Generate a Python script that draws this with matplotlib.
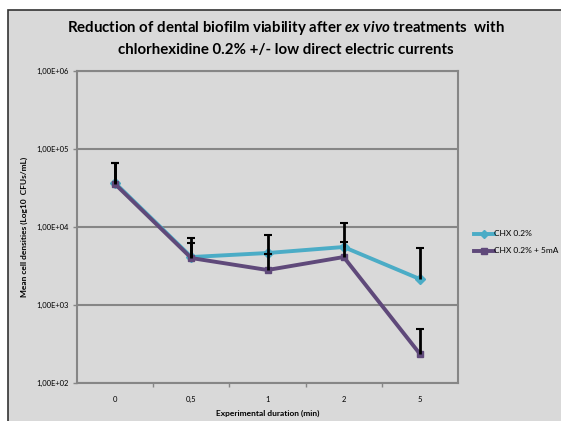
import matplotlib.pyplot as plt
from matplotlib.patches import Rectangle
from matplotlib.ticker import FixedLocator, NullFormatter

# Data
durations = ["0", "0,5", "1", "2", "5"]
chx = [36600, 4120, 4640, 5540, 2150]
chx_top = [66400, 7230, 7890, 11200, 5370]
chx_5ma = [35500, 4000, 2810, 4120, 236]
chx_5ma_top = [66000, 6240, 4500, 6400, 493]
ytick_vals = [1e2, 1e3, 1e4, 1e5, 1e6]
ytick_labels = ["1,00E+02", "1,00E+03", "1,00E+04", "1,00E+05", "1,00E+06"]

CYAN = "#4bacc6"
PURPLE = "#5f497a"
BG = "#d9d9d9"
GRID = "#868686"

plt.rcParams["font.family"] = ["Lato", "DejaVu Sans"]
plt.rcParams["mathtext.fontset"] = "custom"
plt.rcParams["mathtext.it"] = "Lato:italic:bold"
plt.rcParams["mathtext.rm"] = "Lato:bold"

fig = plt.figure(figsize=(5.61, 4.21), dpi=100, facecolor="white")

# Chart frame (Excel chart area)
fig.patches.append(Rectangle((8 / 561, -0.1), 1.2, 1.1 - 10 / 421,
                             transform=fig.transFigure, facecolor=BG,
                             edgecolor="#333333", linewidth=1.2, zorder=-5))

ax = fig.add_axes([77 / 561, 1 - 383 / 421, (458 - 77) / 561, (383 - 71) / 421])
ax.set_facecolor(BG)
x = list(range(len(durations)))

ax.plot(x, chx, color=CYAN, linewidth=2.8, marker="D", markersize=5,
        label="CHX 0.2%", zorder=3)
ax.plot(x, chx_5ma, color=PURPLE, linewidth=2.8, marker="s", markersize=5,
        label="CHX 0.2% + 5mA", zorder=3)

# Plus-only error bars (hide the lower caps)
err1 = [t - v for t, v in zip(chx_top, chx)]
err2 = [t - v for t, v in zip(chx_5ma_top, chx_5ma)]
for vals, err in [(chx, err1), (chx_5ma, err2)]:
    eb = ax.errorbar(x, vals, yerr=[[0] * 5, err], fmt="none", ecolor="black",
                     elinewidth=2, capsize=3, capthick=1.5, zorder=4)
    eb[1][0].set_visible(False)

# Customize
ax.set_yscale("log")
ax.set_ylim(1e2, 1e6)
ax.set_xlim(-0.5, 4.5)
ax.yaxis.set_major_locator(FixedLocator(ytick_vals))
ax.set_yticklabels(ytick_labels)
ax.yaxis.set_minor_locator(FixedLocator([]))
ax.yaxis.set_minor_formatter(NullFormatter())
ax.set_xticks(x)
ax.set_xticklabels(durations)
ax.set_xticks([0.5, 1.5, 2.5, 3.5], minor=True)
ax.tick_params(axis="x", which="major", length=0, labelsize=5.5, pad=9)
ax.tick_params(axis="x", which="minor", length=3, color=GRID, width=1)
ax.tick_params(axis="y", which="major", length=3, color=GRID, width=1,
               labelsize=5.5, pad=3)
ax.grid(which="major", axis="y", color=GRID, linewidth=1.5)
for side in ["left", "bottom", "right", "top"]:
    ax.spines[side].set_color(GRID)
    ax.spines[side].set_linewidth(1.5)

ax.set_xlabel("Experimental duration (min)", fontsize=6, fontweight="bold", labelpad=5)
ax.set_ylabel("Mean cell densities (Log10  CFUs/mL)", fontsize=6, fontweight="bold", labelpad=6)

fig.text(0.51, 1 - 28 / 421,
         "Reduction of dental biofilm viability after $\\mathit{ex\\ vivo}$ treatments  with",
         ha="center", va="center", fontsize=10.8, fontweight="bold")
fig.text(0.51, 1 - 50 / 421, "chlorhexidine 0.2% +/- low direct electric currents",
         ha="center", va="center", fontsize=10.8, fontweight="bold")

# Legend
fig.legend(loc="upper left", bbox_to_anchor=(466 / 561, 1 - 223 / 421),
           frameon=False, fontsize=6, handlelength=2.4, handletextpad=0.1,
           labelspacing=1.2, markerscale=0.8)

plt.savefig("out.png", dpi=100)
